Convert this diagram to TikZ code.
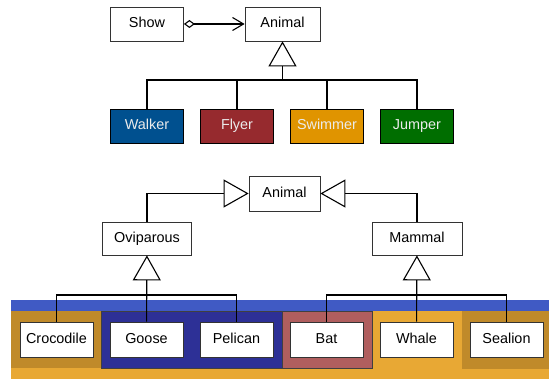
\documentclass[tikz,border=0pt]{standalone}
\usepackage{fontspec}
\setmainfont{Liberation Sans}
\usetikzlibrary{arrows.meta}

\definecolor{walkblue}{RGB}{0,80,143}
\definecolor{flyred}{RGB}{150,42,46}
\definecolor{swimgold}{RGB}{224,148,0}
\definecolor{jumpgreen}{RGB}{0,110,0}
\definecolor{bandblue}{RGB}{64,90,196}
\definecolor{deepblue}{RGB}{45,48,150}
\definecolor{lightgold}{RGB}{232,168,52}
\definecolor{darkgold}{RGB}{192,138,42}
\definecolor{batred}{RGB}{176,94,94}

\begin{document}
\begin{tikzpicture}[x=1pt, y=1pt, node distance=90pt,
  every node/.style={draw=black!80, fill=white, rectangle, line width=0.8pt, inner sep=0pt,
    minimum width=73pt, minimum height=34pt, text height=10.5pt, text depth=3pt,
    font=\fontsize{14.4}{17}\selectfont},
  kind/.style={draw=black, text=white!92!black},
  inherit/.style={line width=1.1pt, -{Triangle[open, length=25pt, width=28pt, line width=1.1pt]}},
  aggr/.style={line width=1.1pt, {Diamond[open, length=11pt, width=8pt]}-{Straight Barb[length=11pt, width=13pt]}}]
\useasboundingbox (0,0) rectangle (549,-379);

\fill[bandblue] (11,-300) rectangle (549,-311);
\fill[lightgold] (11,-311) rectangle (549,-379);
\fill[darkgold] (11,-311) rectangle (101,-368);
\filldraw[fill=deepblue, draw=black!75, line width=0.6pt] (101,-311) rectangle (282,-368);
\filldraw[fill=batred, draw=black!75, line width=0.6pt] (282,-311) rectangle (372,-368);
\fill[darkgold] (462,-311) rectangle (549,-369);

\node (show) at (147,-24) {Show};
\node (animal) [right of=show, xshift=45.5pt, minimum width=75pt] {Animal};
\node (walker) at (147,-126) [kind, fill=walkblue] {Walker};
\node (flyer) [right of=walker, kind, fill=flyred] {Flyer};
\node (swimmer) [right of=flyer, kind, fill=swimgold] {Swimmer};
\node (jumper) [right of=swimmer, kind, fill=jumpgreen] {Jumper};
\coordinate (movebus) at (282.5,-80);

\node (animaltwo) at (284.5,-193.5) [minimum width=71pt, minimum height=35pt] {Animal};
\node (oviparous) at (147,-238.5) [minimum width=89pt, minimum height=33pt] {Oviparous};
\node (mammal) [right of=oviparous, xshift=180pt, minimum width=90pt, minimum height=33pt] {Mammal};

\node (crocodile) at (56.5,-339.5) [minimum height=35pt] {Crocodile};
\node (goose) [right of=crocodile, minimum height=35pt] {Goose};
\node (pelican) [right of=goose, minimum height=35pt] {Pelican};
\node (bat) [right of=pelican, minimum height=35pt] {Bat};
\node (whale) [right of=bat, minimum height=35pt] {Whale};
\node (sealion) [right of=whale, minimum height=35pt] {Sealion};
\coordinate (ovbus) at (147,-295);
\coordinate (mambus) at (417,-295);

\draw[aggr] (show)--(animal);
\draw[line width=1.1pt] (walker) |- (movebus) -| (jumper);
\draw[line width=1.1pt] (flyer) |- (movebus) -| (swimmer);
\draw[inherit] (movebus)--(animal);
\draw[inherit] (oviparous) |- (animaltwo);
\draw[inherit] (mammal) |- (animaltwo);
\draw[line width=1.1pt] (crocodile) |- (ovbus) -| (pelican);
\draw[inherit] (goose)--(oviparous);
\draw[line width=1.1pt] (bat) |- (mambus) -| (sealion);
\draw[inherit] (whale)--(mammal);
\end{tikzpicture}
\end{document}
